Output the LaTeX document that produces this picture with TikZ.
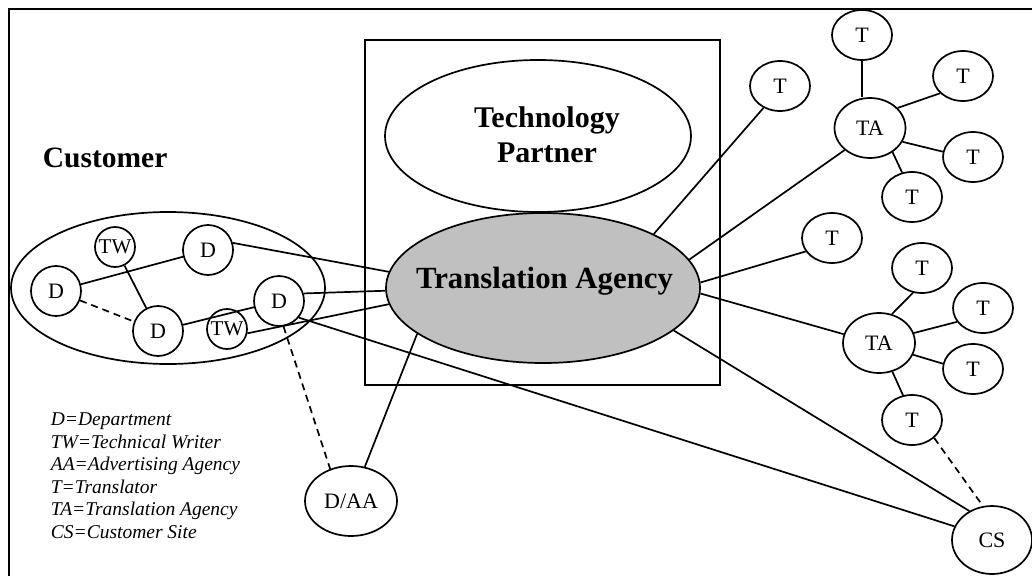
\documentclass[tikz,border=0pt]{standalone}
\usepackage{fontspec}
\setmainfont{Liberation Serif}
\usetikzlibrary{shapes.geometric}
\definecolor{agencyfill}{HTML}{C0C0C0}
\tikzset{
  x=1pt, y=-1pt,
  every path/.style={line width=1.7pt},
  link/.style={draw, line width=1.7pt},
  dlink/.style={draw, line width=1.7pt, dash pattern=on 7pt off 5pt},
  actor/.style={draw, ellipse, line width=1.7pt, inner sep=0pt,
    minimum width=60pt, minimum height=50pt, font=\fontsize{22}{26}\selectfont},
  dept/.style={draw, circle, line width=1.7pt, inner sep=0pt,
    minimum size=50pt, font=\fontsize{22}{26}\selectfont},
  writer/.style={draw, circle, line width=1.7pt, inner sep=0pt,
    minimum size=40pt, font=\fontsize{21}{25}\selectfont},
  agency/.style={actor, minimum width=71pt, minimum height=60pt},
  bigtitle/.style={font=\bfseries\fontsize{30}{35}\selectfont, inner sep=0pt},
  legend/.style={font=\itshape\fontsize{19.5}{22.5}\selectfont, align=left, inner sep=0pt}
}
\begin{document}
\begin{tikzpicture}
\useasboundingbox (0,0) rectangle (1032,575);

% outer frame (only the top and left edges fall inside the page)
\draw[line width=1.8pt] (9,585) -- (9,9) -- (1045,9);

% central box with the technology partner and the translation agency
\node[draw, rectangle, line width=1.7pt, minimum width=355pt, minimum height=345pt, inner sep=0pt] (box) at (542.5,212.5) {};
\node[draw, ellipse, line width=1.7pt, minimum width=306pt, minimum height=152pt, inner sep=0pt] (tp) at (538,136) {};
\node[bigtitle, align=center] (tptext) at (547,135) {Technology\\Partner};
\node[draw, ellipse, fill=agencyfill, line width=1.7pt, minimum width=314pt, minimum height=150pt, inner sep=0pt] (ta) at (543,288) {};
\node[bigtitle, anchor=base, font=\bfseries\fontsize{30.8}{36}\selectfont] (tatext) at (544.5,288) {Translation Agency};

% customer side
\node[bigtitle, anchor=base west, font=\bfseries\fontsize{29.5}{35}\selectfont] (custtext) at (42,167) {Customer};
\node[draw, ellipse, line width=1.7pt, minimum width=314pt, minimum height=152pt, inner sep=0pt] (cust) at (168,288) {};
\node[dept] (Dl) at (56,291) {D};
\node[dept] (Dt) at (208,250) {D};
\node[dept] (Db) at (158,331) {D};
\node[dept] (Dr) at (279,301) {D};
\node[writer] (TWt) at (115,247) {TW};
\node[writer] (TWb) at (227,329) {TW};

\node[actor, minimum width=92pt, minimum height=70pt] (daa) at (351,501) {D/AA};
\node[actor, minimum width=80pt, minimum height=68pt] (cs) at (992,540) {CS};

% translators and translation agencies
\node[actor] (t1) at (780,86) {T};
\node[agency] (ta1) at (870,128) {TA};
\node[actor] (t1a) at (862,35) {T};
\node[actor] (t1b) at (963,76) {T};
\node[actor] (t1c) at (973,157) {T};
\node[actor] (t1d) at (912,197) {T};
\node[actor] (t2) at (832,238) {T};
\node[agency, minimum width=72pt] (ta2) at (879,343) {TA};
\node[actor] (t2a) at (922,268) {T};
\node[actor] (t2b) at (983,308) {T};
\node[actor] (t2c) at (973,369) {T};
\node[actor] (t2d) at (912,420) {T};

% legend
\node[legend, anchor=north west] (key) at (50,412) {D=Department\\TW=Technical Writer\\AA=Advertising Agency\\T=Translator\\TA=Translation Agency\\CS=Customer Site};

% links inside the customer
\draw[link] (Dl) -- (Dt);
\draw[link] (TWt) -- (Db);
\draw[dlink] (Dl) -- (Db);
\draw[link] (Db) -- (Dr);

% customer to agency and site
\draw[link] (Dt.16) -- (ta.174);
\draw[link] (Dr.17) -- (ta.181);
\draw[link] (TWb.-12) -- (ta.186);
\draw[link] (Dr.-40) -- (cs.160);
\draw[dlink] (Dr.-80) -- (daa.123);
\draw[link] (daa.68) -- (ta.200);
\draw[link] (ta.-18) -- (cs.128);
\draw[dlink] (t2d.-39) -- (cs.105);

% agency to translators
\draw[link] (ta.26) -- (t1.233);
\draw[link] (ta.11) -- (ta1.221);
\draw[link] (ta.2) -- (t2.207);
\draw[link] (ta.-2) -- (ta2.166);

% first translation agency
\draw[link] (t1a.south) -- (t1a.south |- ta1.north);
\draw[link] (ta1.36) -- (t1b.217);
\draw[link] (ta1.-23) -- (t1c.170);
\draw[link] (ta1.-47) -- (t1d.112);

% second translation agency
\draw[link] (ta2.66) -- (t2a.250);
\draw[link] (ta2.16) -- (t2b.208);
\draw[link] (ta2.-19) -- (t2c.170);
\draw[link] (ta2.-65) -- (t2d.110);
\end{tikzpicture}
\end{document}
